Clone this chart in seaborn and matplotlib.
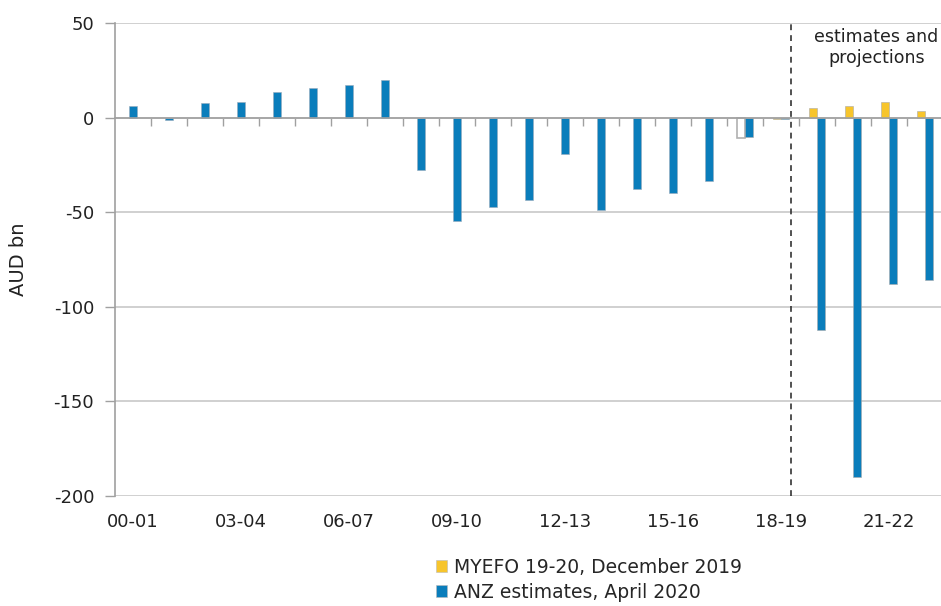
import matplotlib
matplotlib.use("Agg")
import matplotlib.pyplot as plt
import seaborn as sns
import pandas as pd
import numpy as np
from matplotlib.patches import Patch

# ---------------- data ----------------
years = ["00-01", "01-02", "02-03", "03-04", "04-05", "05-06", "06-07", "07-08",
         "08-09", "09-10", "10-11", "11-12", "12-13", "13-14", "14-15", "15-16",
         "16-17", "17-18", "18-19", "19-20", "20-21", "21-22", "22-23"]
hist_years = years[:17]
hist_values = [6.0, -1.3, 7.5, 8.0, 13.4, 15.7, 17.3, 19.7, -27.5, -54.5,
               -47.5, -43.5, -19.0, -49.0, -38.0, -40.0, -33.5]
proj_years = years[17:]
myefo_values = [-10.6, -0.8, 5.0, 6.1, 8.3, 3.5]
anz_values = [-10.4, -1.0, -112.0, -190.0, -88.0, -86.0]
series_names = ["MYEFO 19-20, December 2019", "ANZ estimates, April 2020"]
tick_years = years[::3]
y_ticks = [-200, -150, -100, -50, 0, 50]

BLUE = "#0a7dbb"
GOLD = "#f7c52c"
TXT = "#222222"

hist_df = pd.DataFrame({"year": hist_years, "value": hist_values})
proj_df = pd.DataFrame({
    "year": proj_years * 2,
    "value": myefo_values + anz_values,
    "series": [series_names[0]] * len(proj_years) + [series_names[1]] * len(proj_years),
})

sns.set_style("white")
plt.rcParams["font.family"] = ["DejaVu Sans"]
plt.rcParams["axes.unicode_minus"] = False

fig = plt.figure(figsize=(9.41, 6.06), dpi=100)
ax = fig.add_axes([115 / 941, 1 - 496 / 606, 828 / 941, (496 - 23) / 606])

sns.barplot(data=hist_df, x="year", y="value", order=years, color=BLUE,
            width=0.23, errorbar=None, ax=ax, saturation=1,
            edgecolor="#9ab", linewidth=0.4)
sns.barplot(data=proj_df, x="year", y="value", hue="series", order=years,
            hue_order=series_names, palette=[GOLD, BLUE], width=0.46,
            errorbar=None, ax=ax, saturation=1, legend=False,
            edgecolor="#aaa", linewidth=0.4)

# 17-18 first bar is an empty outlined bar
myefo_container = ax.containers[1]
first = myefo_container.patches[0]
first.set_facecolor("white")
first.set_edgecolor("#b0b0b0")
first.set_linewidth(1.2)

ax.set_xlim(-0.5, len(years) - 0.5)
ax.set_ylim(-200, 50)
ax.set_yticks(y_ticks)
ax.yaxis.grid(True, color="#cdcdcd", linewidth=1.3)
ax.xaxis.grid(False)
ax.set_axisbelow(True)

for s in ["top", "right"]:
    ax.spines[s].set_visible(False)
ax.spines["left"].set_color("#a0a0a0")
ax.spines["left"].set_linewidth(1.2)
ax.spines["bottom"].set_position(("data", 0))
ax.spines["bottom"].set_color("#a0a0a0")
ax.spines["bottom"].set_linewidth(1.2)

# boundary ticks on the zero line
ax.set_xticks(np.arange(len(years) - 1) + 0.5)
ax.set_xticklabels([])
ax.tick_params(axis="x", bottom=True, length=6, color="#a0a0a0", width=1,
               direction="out")
ax.tick_params(axis="y", left=True, length=7, color="#a0a0a0", width=1,
               labelsize=13, labelcolor=TXT, pad=8)
ax.set_xlabel("")
ax.set_ylabel("AUD bn", fontsize=14, color=TXT)
ax.yaxis.set_label_coords((28 - 115) / 828, 0.5)

sec = ax.secondary_xaxis("bottom")
sec.set_xticks([years.index(y) for y in tick_years])
sec.set_xticklabels(tick_years)
sec.tick_params(length=0, labelsize=13, labelcolor=TXT, pad=12)
sec.spines["bottom"].set_visible(False)

ax.axvline(18.28, color="#333333", linestyle=(0, (3.5, 3)), linewidth=1.2)
ax.text(20.65, 37, "estimates and\nprojections", ha="center", va="center",
        fontsize=12.5, color=TXT, linespacing=1.25)

handles = [Patch(facecolor=GOLD, edgecolor="#bbb", linewidth=0.4),
           Patch(facecolor=BLUE, edgecolor="#bbb", linewidth=0.4)]
fig.legend(handles, series_names, loc="upper left",
           bbox_to_anchor=(436 / 941, 1 - 558 / 606), frameon=False,
           fontsize=13.5, handlelength=0.6, handleheight=0.6,
           handletextpad=0.35, labelspacing=0.3, borderaxespad=0,
           borderpad=0)

fig.savefig("out.png", dpi=100)
